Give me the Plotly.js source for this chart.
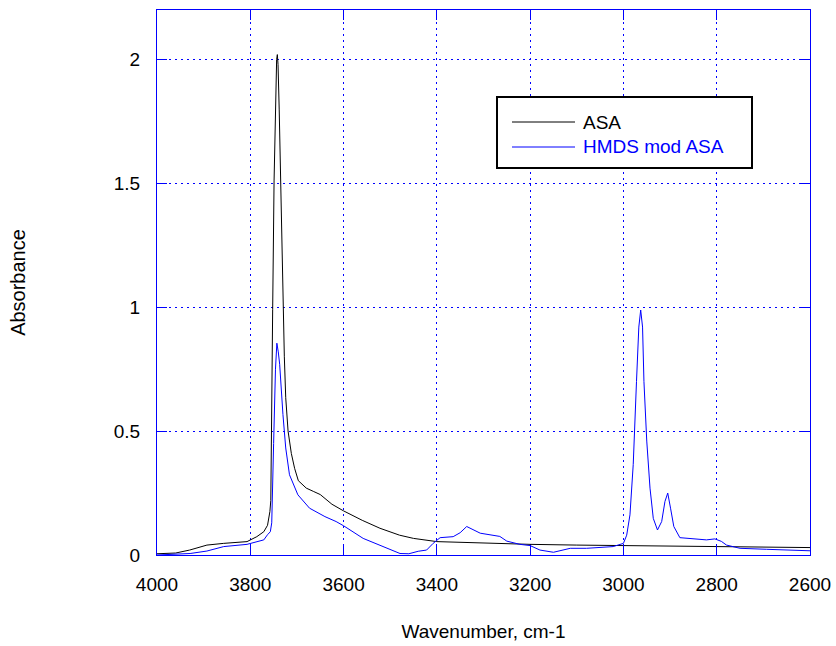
<!DOCTYPE html>
<html>
<head>
<meta charset="utf-8">
<script src="https://cdn.plot.ly/plotly-3.0.1.min.js"></script>
<style>html,body{margin:0;padding:0;background:#fff;}#chart{width:836px;height:646px;}</style>
</head>
<body>
<div id="chart"></div>
<script>
// ASA spectrum (black)
var asaWn = [4000, 3960, 3930, 3893, 3857, 3807, 3786, 3771, 3763, 3758, 3756, 3754, 3752, 3749, 3746, 3743.5, 3742, 3740.5, 3738, 3735, 3730, 3727, 3724, 3719, 3712, 3705, 3697, 3680, 3665, 3650, 3625, 3600, 3560, 3522, 3480, 3450, 3400, 3300, 3200, 3100, 3000, 2900, 2800, 2700, 2600];
var asaA  = [0.005, 0.008, 0.02, 0.04, 0.047, 0.054, 0.074, 0.094, 0.12, 0.175, 0.22, 0.5, 0.99, 1.51, 1.85, 2.0, 2.02, 1.98, 1.8, 1.51, 0.99, 0.8, 0.635, 0.5, 0.41, 0.35, 0.30, 0.27, 0.257, 0.244, 0.205, 0.178, 0.14, 0.108, 0.08, 0.067, 0.054, 0.048, 0.043, 0.040, 0.038, 0.036, 0.034, 0.032, 0.030];

// HMDS mod ASA spectrum (blue)
var hmdsWn = [4000, 3960, 3929, 3893, 3857, 3807, 3771, 3763, 3757, 3754, 3752, 3750, 3746, 3743, 3740, 3737, 3730, 3724, 3716, 3698, 3673, 3640, 3616, 3600, 3558, 3508, 3479, 3460, 3440, 3422, 3408, 3393, 3365, 3350, 3336, 3307, 3279, 3265, 3250, 3222, 3200, 3179, 3150, 3114, 3079, 3022, 3000, 2993, 2986, 2979, 2972, 2967, 2963, 2959, 2956, 2950, 2943, 2936, 2927, 2918, 2911, 2905, 2899, 2892, 2879, 2850, 2822, 2804, 2790, 2779, 2750, 2693, 2600];
var hmdsA  = [0.0, 0.003, 0.006, 0.016, 0.034, 0.043, 0.061, 0.082, 0.094, 0.13, 0.25, 0.45, 0.75, 0.855, 0.82, 0.77, 0.567, 0.432, 0.324, 0.243, 0.189, 0.155, 0.135, 0.118, 0.067, 0.027, 0.006, 0.005, 0.015, 0.02, 0.047, 0.07, 0.074, 0.09, 0.115, 0.088, 0.081, 0.075, 0.056, 0.043, 0.038, 0.02, 0.011, 0.027, 0.027, 0.034, 0.047, 0.08, 0.162, 0.365, 0.70, 0.92, 0.989, 0.92, 0.70, 0.46, 0.27, 0.148, 0.101, 0.135, 0.216, 0.25, 0.189, 0.115, 0.07, 0.065, 0.061, 0.065, 0.055, 0.04, 0.027, 0.023, 0.017];

var xTicks = [4000, 3800, 3600, 3400, 3200, 3000, 2800, 2600];
var yTicks = [0, 0.5, 1, 1.5, 2];
var yTickText = ['0', '0.5', '1', '1.5', '2'];
var seriesNames = ['ASA', 'HMDS mod ASA'];
var seriesColors = ['black', 'rgb(0,0,255)'];

var FONT = 'Liberation Sans, Arial, sans-serif';
var GRID = 'rgb(0,0,255)';

var traces = [
  {x: asaWn, y: asaA, type: 'scatter', mode: 'lines', name: seriesNames[0],
   line: {color: seriesColors[0], width: 1}},
  {x: hmdsWn, y: hmdsA, type: 'scatter', mode: 'lines', name: seriesNames[1],
   line: {color: seriesColors[1], width: 1}}
];

// plot area in pixels: x 157..810, y 10..555
function px(v){ return (v - 157) / 653; }
function py(v){ return (555 - v) / 545; }

var shapes = [
  {type: 'rect', xref: 'paper', yref: 'paper', x0: px(497), x1: px(752), y0: py(168), y1: py(97),
   line: {color: 'black', width: 2}, fillcolor: 'white', layer: 'above'},
  {type: 'line', xref: 'paper', yref: 'paper', x0: px(512), x1: px(575), y0: py(122), y1: py(122),
   line: {color: seriesColors[0], width: 1}, layer: 'above'},
  {type: 'line', xref: 'paper', yref: 'paper', x0: px(512), x1: px(575), y0: py(147), y1: py(147),
   line: {color: seriesColors[1], width: 1}, layer: 'above'}
];
var annotations = [
  {xref: 'paper', yref: 'paper', x: px(581), y: py(122), xanchor: 'left', yanchor: 'middle',
   text: seriesNames[0], showarrow: false, font: {family: FONT, size: 19, color: seriesColors[0]}},
  {xref: 'paper', yref: 'paper', x: px(581), y: py(147), xanchor: 'left', yanchor: 'middle',
   text: seriesNames[1], showarrow: false, font: {family: FONT, size: 19, color: seriesColors[1]}}
];

var layout = {
  width: 836, height: 646,
  margin: {l: 157, r: 26, t: 10, b: 91, pad: 0},
  paper_bgcolor: 'white', plot_bgcolor: 'white',
  showlegend: false,
  font: {family: FONT, size: 19, color: 'black'},
  xaxis: {
    range: [4000, 2600], tickvals: xTicks, ticktext: xTicks.map(String),
    showgrid: true, gridcolor: GRID, griddash: '2px,4px', gridwidth: 1,
    showline: true, linecolor: GRID, linewidth: 1, mirror: 'ticks',
    ticks: 'inside', ticklen: 10, tickcolor: GRID, tickwidth: 1,
    zeroline: false, ticklabelstandoff: 12,
    tickfont: {family: FONT, size: 19, color: 'black'},
    title: {text: 'Wavenumber, cm-1', font: {family: FONT, size: 19, color: 'black'}, standoff: 30}
  },
  yaxis: {
    range: [0, 2.2], tickvals: yTicks, ticktext: yTickText,
    showgrid: true, gridcolor: GRID, griddash: '2px,4px', gridwidth: 1,
    showline: true, linecolor: GRID, linewidth: 1, mirror: 'ticks',
    ticks: 'inside', ticklen: 10, tickcolor: GRID, tickwidth: 1,
    zeroline: false, ticklabelstandoff: 12,
    tickfont: {family: FONT, size: 19, color: 'black'},
    title: {text: 'Absorbance', font: {family: FONT, size: 20, color: 'black'}, standoff: 82}
  },
  shapes: shapes,
  annotations: annotations
};

Plotly.newPlot('chart', traces, layout, {displayModeBar: false, staticPlot: true});
</script>
</body>
</html>
